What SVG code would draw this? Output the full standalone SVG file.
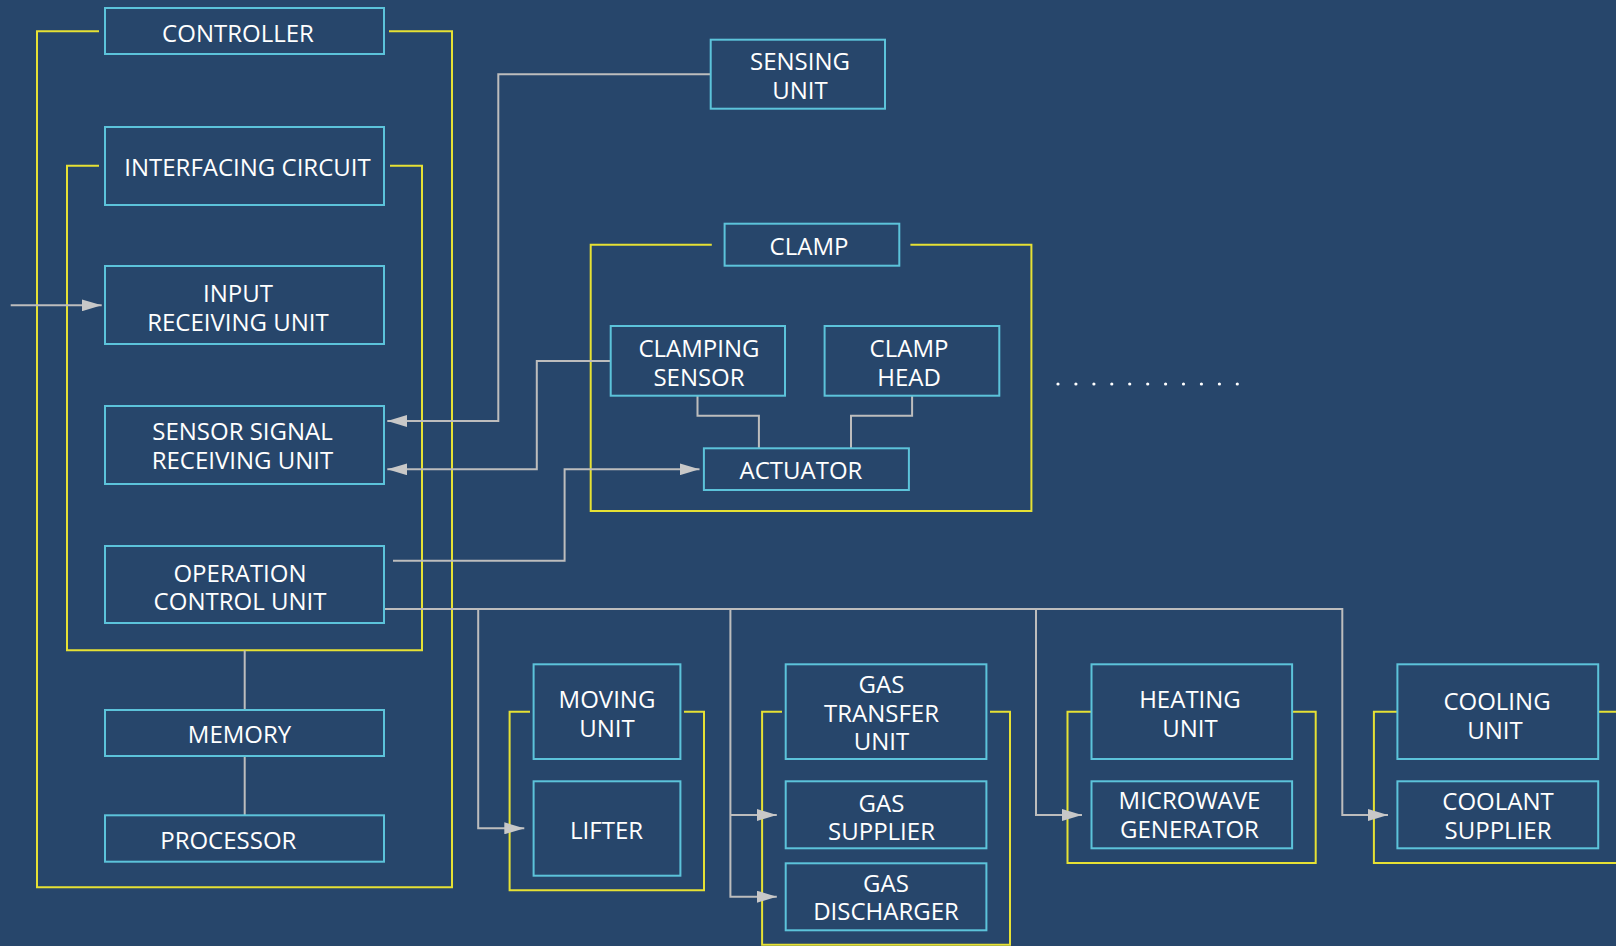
<svg xmlns="http://www.w3.org/2000/svg" width="1616" height="946" viewBox="0 0 1616 946">
<style>
.bg{fill:#27466b}
.box{fill:#27466b;stroke:#5cc3da;stroke-width:2}
.frame{fill:none;stroke:#e6e134;stroke-width:2}
.con{fill:none;stroke:#bdbdbd;stroke-width:2}
.t{font-family:"Open Sans","Noto Sans","DejaVu Sans",sans-serif;font-size:24px;fill:#ffffff;text-anchor:middle}
.dot{fill:#ffffff}
</style>
<defs>
<marker id="arr" markerUnits="userSpaceOnUse" markerWidth="20" markerHeight="12" refX="20" refY="6" orient="auto" viewBox="0 0 20 12">
<path d="M0,0 L20,6 L0,12 z" fill="#c8c8c8"/>
</marker>
</defs>
<rect class="bg" x="0" y="0" width="1616" height="946"/>

<g id="frames">
<path id="frame-controller" class="frame" d="M99,31.3 H37 V887.3 H452 V31.3 H389"/>
<path id="frame-interfacing" class="frame" d="M99,165.7 H67 V650.3 H422 V165.7 H390"/>
<path id="frame-clamp" class="frame" d="M711.8,244.7 H590.7 V511 H1031.4 V244.7 H910.4"/>
<path id="frame-moving" class="frame" d="M530,711.7 H509.6 V890.3 H704 V711.7 H684"/>
<path id="frame-gas" class="frame" d="M782,711.7 H762.1 V944.7 H1010 V711.7 H990"/>
<path id="frame-heating" class="frame" d="M1091.5,711.7 H1067.5 V863 H1315.7 V711.7 H1292"/>
<path id="frame-cooling" class="frame" d="M1397.5,711.7 H1373.9 V863 H1620 M1598,711.7 H1620"/>
</g>

<g id="connectors">
<path class="con" d="M10.7,305.3 H101.7" marker-end="url(#arr)"/>
<path class="con" d="M710.7,74.3 H498.3 V421 H387.3" marker-end="url(#arr)"/>
<path class="con" d="M610.7,361 H536.8 V469.3 H387.3" marker-end="url(#arr)"/>
<path class="con" d="M393,560.7 H564.6 V469.3 H699.5" marker-end="url(#arr)"/>
<path class="con" d="M697.5,395.7 V415.7 H758.9 V448.3"/>
<path class="con" d="M912.1,395.7 V415.7 H851 V448.3"/>
<path class="con" d="M384,609 H1342.3 V815 H1388" marker-end="url(#arr)"/>
<path class="con" d="M478.2,609 V828.3 H524.3" marker-end="url(#arr)"/>
<path class="con" d="M730.4,609 V896.7 H776.8" marker-end="url(#arr)"/>
<path class="con" d="M730.4,815 H776.8" marker-end="url(#arr)"/>
<path class="con" d="M1036,609 V815 H1082" marker-end="url(#arr)"/>
<path class="con" d="M244.7,650.3 V709.7"/>
<path class="con" d="M244.7,756 V815.3"/>
</g>

<g id="controller"><rect class="box" x="105" y="8" width="279" height="46"/><text class="t" x="238" y="42">CONTROLLER</text></g>
<g id="interfacing-circuit"><rect class="box" x="105" y="127" width="279" height="78"/><text class="t" x="247.5" y="175.5">INTERFACING CIRCUIT</text></g>
<g id="input-receiving-unit"><rect class="box" x="105" y="266" width="279" height="78"/><text class="t" x="238" y="301.5">INPUT</text><text class="t" x="238" y="330.5">RECEIVING UNIT</text></g>
<g id="sensor-signal-receiving-unit"><rect class="box" x="105" y="406" width="279" height="78"/><text class="t" x="242.5" y="440">SENSOR SIGNAL</text><text class="t" x="242.5" y="469">RECEIVING UNIT</text></g>
<g id="operation-control-unit"><rect class="box" x="105" y="546" width="279" height="77"/><text class="t" x="240" y="581.5">OPERATION</text><text class="t" x="240" y="610">CONTROL UNIT</text></g>
<g id="memory"><rect class="box" x="105" y="710" width="279" height="46"/><text class="t" x="239.5" y="743">MEMORY</text></g>
<g id="processor"><rect class="box" x="105" y="815.3" width="279" height="46.4"/><text class="t" x="228.3" y="849">PROCESSOR</text></g>

<g id="sensing-unit"><rect class="box" x="710.7" y="39.7" width="174.3" height="69"/><text class="t" x="800" y="70">SENSING</text><text class="t" x="800" y="99">UNIT</text></g>
<g id="clamp"><rect class="box" x="724.6" y="223.7" width="174.7" height="42"/><text class="t" x="809" y="255">CLAMP</text></g>
<g id="clamping-sensor"><rect class="box" x="610.7" y="326" width="174.3" height="69.7"/><text class="t" x="699" y="357.3">CLAMPING</text><text class="t" x="699" y="386">SENSOR</text></g>
<g id="clamp-head"><rect class="box" x="824.6" y="326" width="174.7" height="69.7"/><text class="t" x="909" y="357.3">CLAMP</text><text class="t" x="909" y="386">HEAD</text></g>
<g id="actuator"><rect class="box" x="703.9" y="448.3" width="205" height="41.7"/><text class="t" x="801" y="479.3">ACTUATOR</text></g>

<g id="ellipsis">
<circle class="dot" cx="1058" cy="384" r="1.6"/><circle class="dot" cx="1075.9" cy="384" r="1.6"/><circle class="dot" cx="1093.9" cy="384" r="1.6"/><circle class="dot" cx="1111.8" cy="384" r="1.6"/><circle class="dot" cx="1129.7" cy="384" r="1.6"/><circle class="dot" cx="1147.7" cy="384" r="1.6"/><circle class="dot" cx="1165.6" cy="384" r="1.6"/><circle class="dot" cx="1183.5" cy="384" r="1.6"/><circle class="dot" cx="1201.4" cy="384" r="1.6"/><circle class="dot" cx="1219.4" cy="384" r="1.6"/><circle class="dot" cx="1237.3" cy="384" r="1.6"/>
</g>

<g id="moving-unit"><rect class="box" x="533.6" y="664.3" width="146.8" height="94.7"/><text class="t" x="607" y="708.3">MOVING</text><text class="t" x="607" y="736.7">UNIT</text></g>
<g id="lifter"><rect class="box" x="533.6" y="781.3" width="146.8" height="94.4"/><text class="t" x="606.6" y="839.3">LIFTER</text></g>

<g id="gas-transfer-unit"><rect class="box" x="785.7" y="664.3" width="200.7" height="94.7"/><text class="t" x="881.5" y="692.7">GAS</text><text class="t" x="881.5" y="721.5">TRANSFER</text><text class="t" x="881.5" y="750">UNIT</text></g>
<g id="gas-supplier"><rect class="box" x="785.7" y="781.3" width="200.7" height="67"/><text class="t" x="881.5" y="811.7">GAS</text><text class="t" x="881.5" y="840.3">SUPPLIER</text></g>
<g id="gas-discharger"><rect class="box" x="785.7" y="863.3" width="200.7" height="67"/><text class="t" x="886" y="891.7">GAS</text><text class="t" x="886" y="920.3">DISCHARGER</text></g>

<g id="heating-unit"><rect class="box" x="1091.5" y="664.3" width="200.6" height="94.7"/><text class="t" x="1190" y="708">HEATING</text><text class="t" x="1190" y="736.7">UNIT</text></g>
<g id="microwave-generator"><rect class="box" x="1091.5" y="781.3" width="200.6" height="67"/><text class="t" x="1189.5" y="809.3">MICROWAVE</text><text class="t" x="1189.5" y="837.7">GENERATOR</text></g>

<g id="cooling-unit"><rect class="box" x="1397.4" y="664.3" width="200.8" height="94.7"/><text class="t" x="1497" y="710">COOLING</text><text class="t" x="1495" y="739.3">UNIT</text></g>
<g id="coolant-supplier"><rect class="box" x="1397.4" y="781.3" width="200.8" height="67"/><text class="t" x="1498" y="810">COOLANT</text><text class="t" x="1498" y="839">SUPPLIER</text></g>
</svg>
